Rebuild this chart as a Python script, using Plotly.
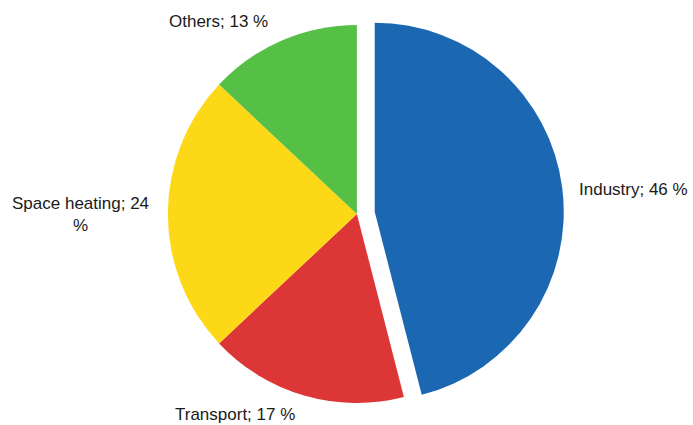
import plotly.graph_objects as go

labels = ["Industry", "Transport", "Space heating", "Others"]
values = [46, 17, 24, 13]
colors = ["#1b67b2", "#dc3636", "#fdd817", "#55bf46"]
pulls = [0.095, 0, 0, 0]
label_texts = ["Industry; 46 %", "Transport; 17 %", "Space heating; 24<br>%", "Others; 13 %"]
# label anchor positions in pixels (x, y) from top-left
label_px = [(633, 189), (235, 414), (80, 214), (218, 21)]

W, H = 693, 425

fig = go.Figure(go.Pie(
    labels=labels,
    values=values,
    sort=False,
    direction="clockwise",
    rotation=0,
    pull=pulls,
    marker=dict(colors=colors, line=dict(width=0)),
    textinfo="none",
    hoverinfo="label+percent",
    domain=dict(x=[0.03, 1.0], y=[4 / H, 1 - 7 / H]),
    showlegend=False,
))

for txt, (px, py) in zip(label_texts, label_px):
    fig.add_annotation(
        text=txt, x=px / W, y=1 - py / H, xref="paper", yref="paper",
        xanchor="center", yanchor="middle", showarrow=False,
        font=dict(family="Liberation Sans, Arial, sans-serif", size=17, color="#1a1a1a"),
    )

fig.update_layout(
    width=W, height=H,
    margin=dict(l=0, r=0, t=0, b=0),
    paper_bgcolor="white",
    plot_bgcolor="white",
)

fig.write_html(
    "out.html",
    config={"displayModeBar": False},
    post_script="document.body.style.margin='0';document.body.style.overflow='hidden';",
)
